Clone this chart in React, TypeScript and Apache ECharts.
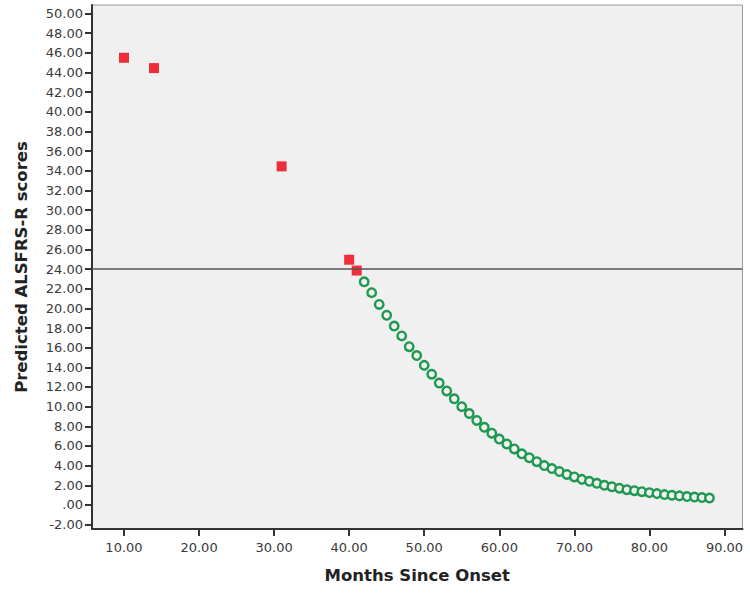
import React, { useEffect, useRef } from "react";
import * as echarts from "echarts";

const observedMonths = [10, 14, 31, 40, 41];
const observedScores = [45.5, 44.45, 34.45, 24.95, 23.85];

const predictedMonths = [
  42, 43, 44, 45, 46, 47, 48, 49, 50, 51, 52, 53, 54, 55, 56, 57, 58, 59, 60, 61, 62, 63, 64, 65,
  66, 67, 68, 69, 70, 71, 72, 73, 74, 75, 76, 77, 78, 79, 80, 81, 82, 83, 84, 85, 86, 87, 88,
];
const predictedScores = [
  22.7, 21.6, 20.4, 19.3, 18.2, 17.2, 16.1, 15.2, 14.2, 13.3, 12.4, 11.6, 10.8, 10.0, 9.3, 8.6, 7.9,
  7.3, 6.7, 6.2, 5.7, 5.2, 4.8, 4.4, 4.0, 3.7, 3.4, 3.1, 2.85, 2.6, 2.4, 2.2, 2.0, 1.85, 1.7, 1.55,
  1.45, 1.35, 1.25, 1.15, 1.05, 0.98, 0.92, 0.85, 0.8, 0.75, 0.7,
];

const cutoffScore = 24;

const xTicks = [10, 20, 30, 40, 50, 60, 70, 80, 90];
const yTicks = [
  -2, 0, 2, 4, 6, 8, 10, 12, 14, 16, 18, 20, 22, 24, 26, 28, 30, 32, 34, 36, 38, 40, 42, 44, 46, 48,
  50,
];

const fmt = (v: number) => (Math.abs(v) < 1e-9 ? ".00" : v.toFixed(2));

export default function App() {
  const ref = useRef<HTMLDivElement>(null);
  useEffect(() => {
    if (!ref.current) return;
    const chart = echarts.init(ref.current, undefined, { renderer: "svg" });
    const labelFont = "'DejaVu Sans', sans-serif";
    chart.setOption({
      animation: false,
      grid: {
        left: 92,
        top: 5,
        right: 7.5,
        bottom: 69,
        show: true,
        backgroundColor: "#f0f0f0",
        borderColor: "#9a9a9a",
        borderWidth: 1,
      },
      xAxis: {
        type: "value",
        min: 5.74,
        max: 92.4,
        name: "Months Since Onset",
        nameLocation: "middle",
        nameGap: 38,
        nameTextStyle: { fontFamily: labelFont, fontWeight: "bold", fontSize: 16.5, color: "#222" },
        axisLine: { show: true, onZero: false, lineStyle: { color: "#333", width: 2 } },
        axisTick: { show: true, length: 7, customValues: xTicks, lineStyle: { color: "#333", width: 2 } },
        axisLabel: {
          customValues: xTicks,
          formatter: (v: number) => fmt(v),
          fontFamily: labelFont,
          fontSize: 13,
          color: "#3a3a3a",
          margin: 12,
        },
        splitLine: { show: false },
      },
      yAxis: {
        type: "value",
        min: -2.45,
        max: 50.87,
        name: "Predicted ALSFRS-R scores",
        nameLocation: "middle",
        nameGap: 62,
        nameTextStyle: { fontFamily: labelFont, fontWeight: "bold", fontSize: 16.5, color: "#222" },
        axisLine: { show: true, onZero: false, lineStyle: { color: "#333", width: 2 } },
        axisTick: { show: true, length: 7, customValues: yTicks, lineStyle: { color: "#333", width: 2 } },
        axisLabel: {
          customValues: yTicks,
          formatter: (v: number) => fmt(v),
          fontFamily: labelFont,
          fontSize: 13,
          color: "#3a3a3a",
          margin: 9,
        },
        splitLine: { show: false },
      },
      series: [
        {
          type: "scatter",
          data: predictedMonths.map((m, i) => [m, predictedScores[i]]),
          symbol: "circle",
          symbolSize: 8.5,
          itemStyle: { color: "#f0f0f0", borderColor: "#1e9950", borderWidth: 2.4, opacity: 1 },
          z: 3,
        },
        {
          type: "scatter",
          data: observedMonths.map((m, i) => [m, observedScores[i]]),
          symbol: "rect",
          symbolSize: 10,
          itemStyle: { color: "#ee2f3b", opacity: 1 },
          z: 4,
          markLine: {
            silent: true,
            symbol: "none",
            label: { show: false },
            lineStyle: { color: "#555", width: 1.5, type: "solid" },
            data: [{ yAxis: cutoffScore }],
          },
        },
      ],
    });
    return () => chart.dispose();
  }, []);
  return (
    <div
      ref={ref}
      style={{ position: "fixed", left: 0, top: 0, width: 750, height: 598, background: "#fff" }}
    />
  );
}
